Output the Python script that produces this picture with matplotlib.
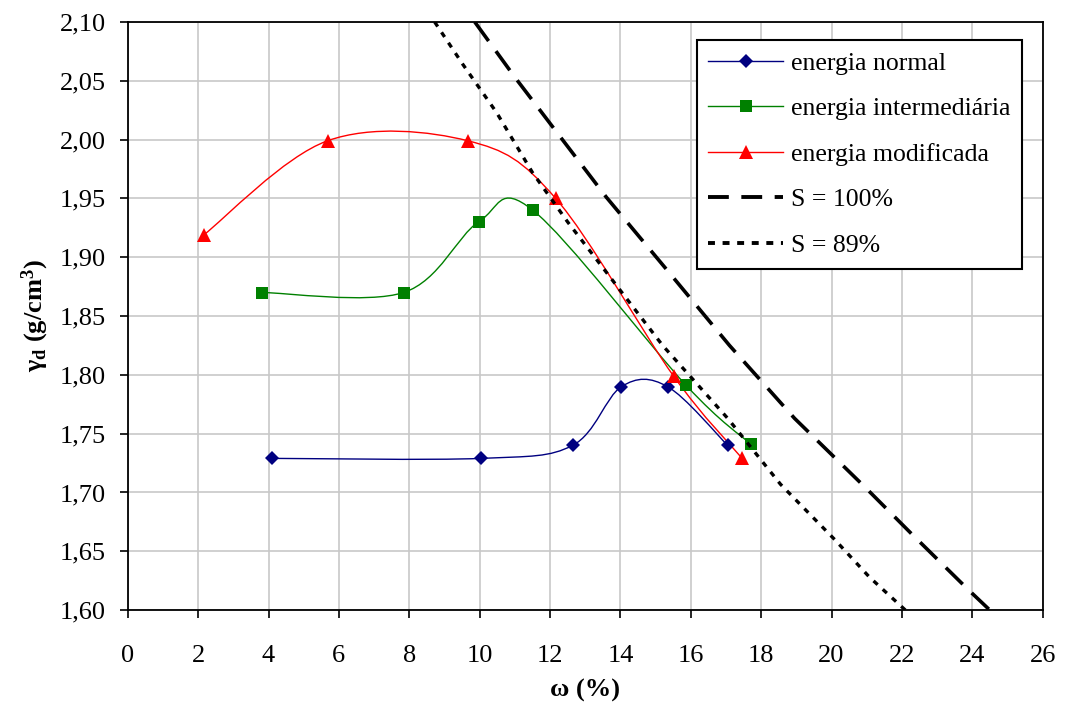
import numpy as np
import matplotlib
matplotlib.use("Agg")
import matplotlib.pyplot as plt
from matplotlib.path import Path
from matplotlib.patches import PathPatch
from matplotlib.lines import Line2D
from matplotlib.ticker import FuncFormatter, MultipleLocator

# ---------------- data ----------------
w_normal = [4.09, 10.05, 12.64, 14.03, 15.34, 17.05]
g_normal = [1.729, 1.729, 1.740, 1.790, 1.790, 1.740]

w_inter = [3.81, 7.84, 9.97, 11.51, 15.87, 17.71]
g_inter = [1.870, 1.870, 1.930, 1.940, 1.791, 1.741]

w_modif = [2.16, 5.68, 9.66, 12.16, 15.51, 17.46]
g_modif = [1.919, 1.999, 1.999, 1.950, 1.799, 1.729]

w_s100 = [9.86, 11.0, 12.35, 13.6, 15.3, 17.1, 18.95, 20.97, 22.27, 23.9, 24.5]
g_s100 = [2.100, 2.053, 2.000, 1.951, 1.890, 1.825, 1.763, 1.704, 1.665, 1.617, 1.600]

w_s89 = [8.72, 9.52, 10.48, 11.5, 12.5, 15.2, 17.05, 18.55, 20.09, 21.08, 22.1]
g_s89 = [2.100, 2.064, 2.023, 1.972, 1.930, 1.825, 1.763, 1.707, 1.660, 1.628, 1.600]

labels = ["energia normal", "energia intermediária", "energia modificada",
          "S = 100%", "S = 89%"]
x_ticks = list(range(0, 27, 2))

# ---------------- style ----------------
plt.rcParams['font.family'] = ['Liberation Serif', 'DejaVu Serif']
plt.rcParams['mathtext.fontset'] = 'custom'
plt.rcParams['mathtext.rm'] = 'Liberation Serif:bold'
plt.rcParams['mathtext.bf'] = 'Liberation Serif:bold'
plt.rcParams['mathtext.it'] = 'Liberation Serif:italic'
plt.rcParams['lines.scale_dashes'] = False

fig = plt.figure(figsize=(10.65, 7.07), dpi=100)
ax = fig.add_axes([0.120, 0.137, 0.859, 0.832])


def smooth_path(xs, ys):
    P = np.column_stack([xs, ys]).astype(float)
    n = len(P)
    verts = [P[0]]
    codes = [Path.MOVETO]
    for i in range(n - 1):
        p_prev = P[i - 1] if i > 0 else P[i]
        p_next2 = P[i + 2] if i + 2 < n else P[i + 1]
        c1 = P[i] + (P[i + 1] - p_prev) / 6.0
        c2 = P[i + 1] - (p_next2 - P[i]) / 6.0
        verts += [c1, c2, P[i + 1]]
        codes += [Path.CURVE4] * 3
    return Path(verts, codes)


series = [
    (w_normal, g_normal, '#000080', 'D', 7.5),
    (w_inter, g_inter, '#008000', 's', 8.0),
    (w_modif, g_modif, '#ff0000', '^', 9.5),
]
handles = []
for xs, ys, col, mk, ms in series:
    patch = PathPatch(smooth_path(xs, ys), facecolor='none', edgecolor=col,
                      lw=1.0, zorder=3)
    ax.add_patch(patch)
    ax.plot(xs, ys, linestyle='none', marker=mk, color=col, ms=ms,
            markeredgewidth=0, zorder=4)
    handles.append(Line2D([], [], color=col, lw=1.0, marker=mk, ms=ms,
                          markeredgewidth=0))

l100, = ax.plot(w_s100, g_s100, color='black', lw=2.6, zorder=5,
                solid_capstyle='butt', dash_capstyle='butt')
l100.set_dashes((17, 9))
l89, = ax.plot(w_s89, g_s89, color='black', lw=2.4, zorder=5,
               dash_capstyle='butt')
l89.set_dashes((4, 5))
h100 = Line2D([], [], color='black', lw=2.8, dash_capstyle='butt')
h100.set_dashes((15, 9))
h89 = Line2D([], [], color='black', lw=2.8, dash_capstyle='butt')
h89.set_dashes((5, 5.5))
handles += [h100, h89]

# ---------------- axes ----------------
ax.set_xlim(0, 26)
ax.set_ylim(1.60, 2.10)
ax.set_xticks(x_ticks)
ax.yaxis.set_major_locator(MultipleLocator(0.05))
ax.yaxis.set_major_formatter(FuncFormatter(lambda v, p: f"{v:.2f}".replace('.', ',')))
ax.grid(True, color='#c8c8c8', lw=1.2)
ax.set_axisbelow(True)
for s in ax.spines.values():
    s.set_linewidth(1.3)
    s.set_color('black')
ax.tick_params(axis='both', direction='out', length=6, width=1.2,
               labelsize=19, colors='black')
ax.tick_params(axis='x', pad=19)
ax.tick_params(axis='y', pad=10)

ax.set_xlabel('ω (%)', fontsize=19, fontweight='bold', labelpad=9)
ax.set_ylabel(r'γ$_{\mathrm{d}}$ (g/cm$^{3}$)', fontsize=19,
              fontweight='bold', labelpad=6)

leg = ax.legend(handles, labels, loc='upper right',
                bbox_to_anchor=(0.977, 0.969), fontsize=18.5,
                frameon=True, fancybox=False, shadow=False,
                handlelength=2.9, handletextpad=0.3, labelspacing=0.88,
                borderpad=0.45, borderaxespad=0.0)
leg.get_frame().set_edgecolor('black')
leg.get_frame().set_linewidth(1.5)
leg.get_frame().set_alpha(1)

fig.savefig('out.png', dpi=100)
